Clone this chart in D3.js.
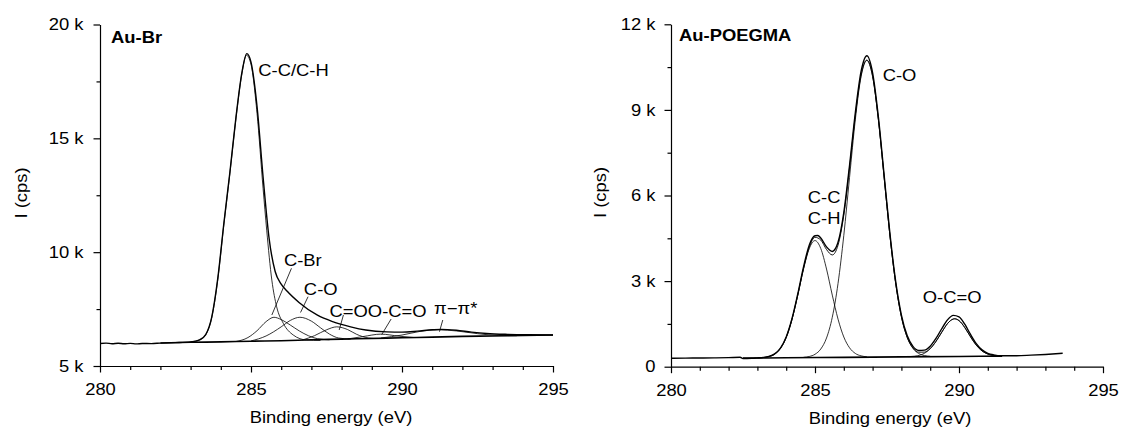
<!DOCTYPE html>
<html>
<head>
<meta charset="utf-8">
<script src="https://cdn.jsdelivr.net/npm/d3@7"></script>
<style>
  body { margin: 0; background: #fff; }
  svg { display: block; }
  text { font-family: "Liberation Sans", Arial, sans-serif; fill: #000; }
</style>
</head>
<body>
<div id="chart"></div>
<script>
// ---- Au-Br panel (binding energy eV, intensity cps) ----
const brSpectrum = [
  [280.0,5990],[280.2,6005],[280.4,5980],[280.6,6000],[280.8,5975],[281.0,5995],[281.2,5970],
  [281.4,5990],[281.7,5985],[282.0,6005],[282.5,6025],[283.0,6060],[283.3,6150],[283.5,6380],
  [283.7,7150],[283.9,8850],[284.1,11250],[284.3,13500],[284.5,15900],[284.7,17900],[284.86,18720],
  [285.0,18350],[285.2,16400],[285.4,13300],[285.6,10600],[285.8,9150],[286.0,8600],[286.2,8280],
  [286.6,7780],[287.2,7230],[287.7,6950],[288.3,6720],[288.8,6580],[289.5,6500],[290.0,6490],
  [290.5,6530],[291.0,6590],[291.3,6610],[291.8,6570],[292.3,6490],[292.8,6430],[293.5,6390],
  [294.2,6370],[295.0,6360]
];
const brBackground = [
  [282.0,6010],[283.0,6040],[284.0,6060],[285.0,6090],[286.0,6110],[287.0,6150],[288.0,6180],
  [289.0,6210],[290.0,6240],[291.0,6270],[292.0,6300],[293.0,6320],[294.0,6340],[295.0,6360]
];
const brCC = [
  [283.0,6060],[283.3,6148],[283.5,6370],[283.7,7120],[283.9,8800],[284.1,11200],[284.3,13450],
  [284.5,15850],[284.7,17850],[284.85,18650],[285.0,18250],[285.2,16100],[285.4,12800],
  [285.52,10965],[285.69,8772],[285.85,7600],[286.07,6873],[286.4,6360],[286.84,6140],[287.3,6120]
];
const brCBr = [
  [284.5,6075],[284.9,6250],[285.2,6550],[285.5,6950],[285.76,7140],[286.0,7040],[286.3,6800],
  [286.6,6540],[286.9,6330],[287.2,6200],[287.6,6150]
];
const brCO = [
  [285.0,6100],[285.5,6320],[286.0,6720],[286.3,7000],[286.62,7140],[287.0,6970],[287.3,6680],
  [287.6,6400],[287.9,6230],[288.3,6180]
];
const brCdO = [
  [286.7,6140],[287.1,6330],[287.5,6590],[287.84,6720],[288.2,6600],[288.5,6390],[288.9,6230],[289.2,6210]
];
const brOCO = [[288.2,6190],[288.7,6290],[289.3,6400],[289.9,6310],[290.4,6250]];
const brPi = [
  [289.3,6230],[290.0,6360],[290.6,6520],[291.2,6590],[291.8,6540],[292.5,6420],[293.2,6340],[293.8,6330]
];
// label text, anchor energy, anchor intensity
const brLabels = [
  ["C-C/C-H",285.24,17740],["C-Br",286.09,9392],["C-O",286.75,8119],
  ["C=O",287.60,7165],["O-C=O",288.87,7165],["π−π*",291.06,7284]
];
// leader lines: E1, I1, E2, I2
const brLeaders = [
  [286.34,9291,285.69,7240],[286.89,8044,286.64,7350],[288.06,7240,287.92,6581],
  [289.64,7064,289.33,6384],[291.35,7020,291.24,6507]
];

// ---- Au-POEGMA panel ----
const pgSpectrum = [
  [280.0,295],[280.5,300],[281.0,305],[281.5,310],[282.0,318],[282.4,330],[282.5,285],[282.8,295],
  [283.0,310],[283.2,325],[283.4,360],[283.6,450],[283.8,650],[284.0,1040],[284.2,1680],[284.4,2540],
  [284.6,3490],[284.8,4260],[285.0,4590],[285.1,4600],[285.2,4510],[285.4,4200],[285.6,4040],
  [285.8,4360],[286.0,5400],[286.2,7060],[286.4,8900],[286.6,10350],[286.8,10900],[287.0,10300],
  [287.2,8760],[287.4,6720],[287.6,4680],[287.8,3000],[288.0,1810],[288.2,1090],[288.4,710],
  [288.6,570],[288.8,580],[289.0,720],[289.2,990],[289.4,1330],[289.6,1640],[289.8,1800],
  [290.0,1750],[290.2,1490],[290.4,1130],[290.6,810],[290.8,590],[291.0,470],[291.2,415],
  [291.5,385],[292.0,385],[292.5,405],[293.0,430],[293.6,470]
];
const pgFit = [
  [283.0,308],[283.2,320],[283.4,354],[283.6,443],[283.8,642],[284.0,1025],[284.2,1655],[284.4,2503],
  [284.6,3429],[284.8,4179],[285.0,4535],[285.2,4440],[285.4,4106],[285.6,3917],[285.8,4261],
  [286.0,5316],[286.2,6970],[286.4,8792],[286.6,10218],[286.8,10748],[287.0,10178],[287.2,8665],
  [287.4,6647],[287.6,4616],[287.8,2936],[288.0,1751],[288.2,1032],[288.4,658],[288.6,508],
  [288.8,511],[289.0,639],[289.2,886],[289.4,1206],[289.6,1509],[289.8,1671],[289.85,1679],
  [290.0,1617],[290.2,1374],[290.4,1048],[290.6,754],[290.8,552],[291.0,443],[291.2,395],[291.4,378]
];
const pgBackground = [[282.5,300],[284.0,312],[286.0,328],[288.0,344],[290.0,360],[291.5,372]];
const pgCC = [
  [283.2,320],[283.4,354],[283.6,443],[283.8,642],[284.0,1025],[284.2,1655],[284.4,2500],[284.6,3417],
  [284.8,4139],[285.0,4420],[285.2,4143],[285.4,3423],[285.6,2510],[285.8,1667],[286.0,1041],
  [286.2,662],[286.4,465],[286.6,380],[286.8,348]
];
const pgCO = [
  [284.6,329],[284.8,358],[285.0,435],[285.2,619],[285.4,1006],[285.6,1732],[285.8,2920],[286.0,4603],
  [286.2,6638],[286.4,8658],[286.6,10171],[286.8,10734],[287.0,10174],[287.2,8665],[287.4,6647],
  [287.6,4616],[287.8,2936],[288.0,1751],[288.2,1029],[288.4,644],[288.6,464],[288.8,390],[289.0,364]
];
const pgOCO = [
  [288.25,351],[288.45,367],[288.65,407],[288.85,501],[289.05,681],[289.25,959],[289.45,1289],
  [289.65,1567],[289.85,1679],[290.05,1570],[290.25,1295],[290.45,969],[290.65,694],[290.85,517],
  [291.05,426],[291.25,389],[291.45,377]
];
const pgLabels = [["C-O",287.35,10023],["C-C",284.75,5727],["C-H",284.75,5001],["O-C=O",288.74,2243]];

// tick values
const xMajor = [280, 285, 290, 295];
const xMinor = d3.range(280, 296, 1);
const brYMajor = [5000, 10000, 15000, 20000];
const brYMinor = [7500, 12500, 17500];
const pgYMajor = [0, 3000, 6000, 9000, 12000];
const pgYMinor = [1500, 4500, 7500, 10500];

// glyphs in the figure are wider than Arial, stretch horizontally
const SX = 1.15;
const FS = 16;

const svg = d3.select("#chart").append("svg")
    .attr("width", 1146)
    .attr("height", 428);

function label(g, x, y, s, opt = {}) {
  const rot = opt.rotate ? ` rotate(${opt.rotate})` : "";
  return g.append("text")
    .attr("transform", `translate(${x},${y})${rot} scale(${SX},1)`)
    .attr("text-anchor", opt.anchor || "start")
    .style("font-size", (opt.size || FS) + "px")
    .style("font-weight", opt.weight || "normal")
    .text(s);
}

function kfmt(d) { return d === 0 ? "0" : (d / 1000) + " k"; }

function drawPanel(p) {
  const g = svg.append("g");
  const x = d3.scaleLinear().domain([280, 295]).range(p.xRange);
  const y = d3.scaleLinear().domain(p.yDomain).range(p.yRange);
  const y0 = p.yRange[0];

  // minor ticks
  g.append("g")
      .attr("transform", `translate(0,${y0})`)
      .call(d3.axisBottom(x).tickValues(xMinor.filter(v => !xMajor.includes(v)))
        .tickSize(4).tickFormat(""))
      .call(a => a.select(".domain").remove());
  g.append("g")
      .attr("transform", `translate(${p.xRange[0]},0)`)
      .call(d3.axisLeft(y).tickValues(p.yMinor).tickSize(3.5).tickFormat(""))
      .call(a => a.select(".domain").remove());

  // major axes
  const xa = g.append("g")
      .attr("transform", `translate(0,${y0})`)
      .call(d3.axisBottom(x).tickValues(xMajor).tickSize(6.5).tickSizeOuter(0));
  xa.selectAll("text")
      .attr("y", 17.5)
      .attr("transform", `scale(${SX},1)`)
      .style("font-size", FS + "px");
  const ya = g.append("g")
      .attr("transform", `translate(${p.xRange[0]},0)`)
      .call(d3.axisLeft(y).tickValues(p.yMajor).tickSize(6.5).tickSizeOuter(0).tickFormat(kfmt));
  ya.selectAll("text")
      .attr("x", p.labelOffset / SX)
      .attr("transform", `scale(${SX},1)`)
      .style("font-size", FS + "px");
  g.selectAll(".domain, .tick line").attr("stroke", "#000").attr("stroke-width", 1.2);
  g.selectAll(".tick text").attr("font-family", null);

  const line = d3.line()
      .x(d => x(d[0]))
      .y(d => y(d[1]))
      .curve(d3.curveMonotoneX);

  const plot = g.append("g").attr("fill", "none").attr("stroke", "#000");
  p.components.forEach(c => {
    plot.append("path").attr("d", line(c)).attr("stroke-width", 0.8);
  });
  if (p.fit) plot.append("path").attr("d", line(p.fit)).attr("stroke-width", 0.9);
  plot.append("path").attr("d", line(p.background)).attr("stroke-width", 1.6);
  plot.append("path").attr("d", line(p.spectrum)).attr("stroke-width", 1.4);

  (p.leaders || []).forEach(l => {
    plot.append("line")
        .attr("x1", x(l[0])).attr("y1", y(l[1]))
        .attr("x2", x(l[2])).attr("y2", y(l[3]))
        .attr("stroke-width", 0.8);
  });
  p.labels.forEach(l => label(g, x(l[1]), y(l[2]), l[0]));

  label(g, p.titlePos[0], p.titlePos[1], p.title, { weight: "bold" });
  label(g, p.xTitlePos[0], p.xTitlePos[1], "Binding energy (eV)", { anchor: "middle" });
  label(g, p.yTitlePos[0], p.yTitlePos[1], "I (cps)", { anchor: "middle", rotate: -90 });
}

drawPanel({
  xRange: [100, 553], yRange: [366, 24.5], yDomain: [5000, 20000],
  yMajor: brYMajor, yMinor: brYMinor, labelOffset: -16.5,
  spectrum: brSpectrum, background: brBackground,
  components: [brCC, brCBr, brCO, brCdO, brOCO, brPi],
  labels: brLabels, leaders: brLeaders,
  title: "Au-Br", titlePos: [111, 42.7],
  xTitlePos: [331, 423], yTitlePos: [26.5, 193]
});

drawPanel({
  xRange: [671, 1103], yRange: [366.7, 24.3], yDomain: [0, 12000],
  yMajor: pgYMajor, yMinor: pgYMinor, labelOffset: -15.5,
  spectrum: pgSpectrum, background: pgBackground, fit: pgFit,
  components: [pgCC, pgCO, pgOCO],
  labels: pgLabels,
  title: "Au-POEGMA", titlePos: [679, 40.7],
  xTitlePos: [890, 424], yTitlePos: [606, 192.5]
});
</script>
</body>
</html>
